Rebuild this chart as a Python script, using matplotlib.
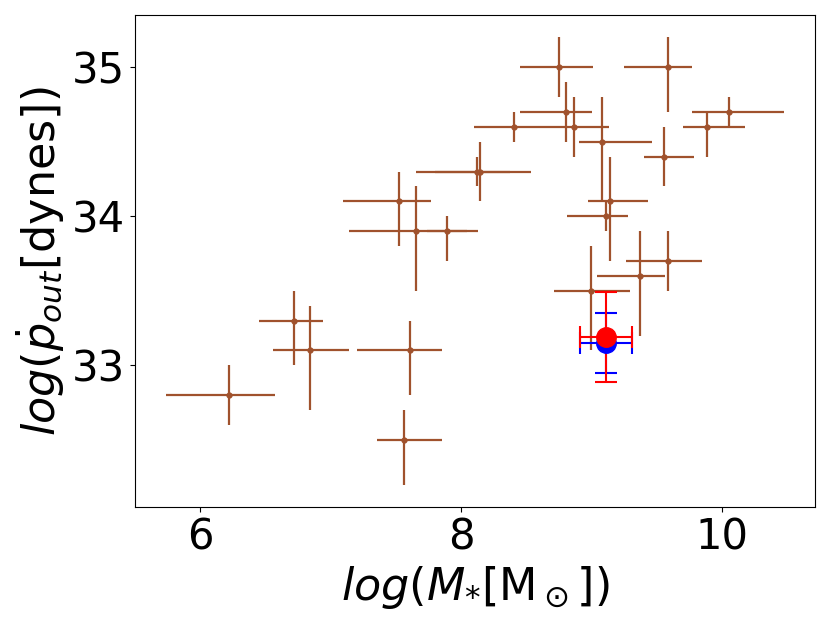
import matplotlib
matplotlib.use("Agg")
import matplotlib.pyplot as plt
import numpy as np

# literature sample: log stellar mass, log momentum rate, asymmetric errors
log_mstar = [6.22, 6.72, 6.84, 7.61, 7.56, 7.52, 7.65, 7.89, 8.12, 8.14,
             8.75, 9.58, 8.80, 8.86, 8.40, 9.08, 9.55, 9.88, 10.05, 9.11,
             9.14, 9.58, 9.37, 8.99]
mstar_lo = [0.48, 0.27, 0.28, 0.41, 0.21, 0.43, 0.51, 0.15, 0.32, 0.49,
            0.30, 0.33, 0.35, 0.24, 0.30, 0.18, 0.15, 0.18, 0.28, 0.30,
            0.17, 0.32, 0.33, 0.28]
mstar_hi = [0.35, 0.22, 0.30, 0.24, 0.29, 0.25, 0.48, 0.15, 0.25, 0.39,
            0.26, 0.19, 0.20, 0.27, 0.22, 0.38, 0.23, 0.29, 0.42, 0.17,
            0.29, 0.26, 0.19, 0.30]
log_pdot = [32.8, 33.3, 33.1, 33.1, 32.5, 34.1, 33.9, 33.9, 34.3, 34.3,
            35.0, 35.0, 34.7, 34.6, 34.6, 34.5, 34.4, 34.6, 34.7, 34.0,
            34.1, 33.7, 33.6, 33.5]
pdot_lo = [0.2, 0.3, 0.4, 0.3, 0.3, 0.3, 0.4, 0.2, 0.1, 0.2,
           0.2, 0.3, 0.2, 0.2, 0.1, 0.4, 0.2, 0.2, 0.1, 0.1,
           0.4, 0.2, 0.4, 0.4]
pdot_hi = [0.2, 0.2, 0.3, 0.2, 0.2, 0.2, 0.3, 0.1, 0.1, 0.2,
           0.2, 0.2, 0.2, 0.2, 0.1, 0.3, 0.2, 0.1, 0.1, 0.1,
           0.3, 0.2, 0.3, 0.3]

# our object, two estimates
obj_mstar = 9.11
obj_mstar_err = 0.2
blue_pdot, blue_pdot_err = 33.15, 0.2
red_pdot, red_pdot_err = 33.19, 0.3

fig = plt.figure(figsize=(8.3, 6.23), dpi=100)
ax = fig.add_axes([0.1627, 0.1862, 0.8193, 0.7897])

ax.errorbar(log_mstar, log_pdot,
            xerr=[mstar_lo, mstar_hi], yerr=[pdot_lo, pdot_hi],
            fmt="o", color="sienna", ecolor="sienna", markersize=3.5,
            elinewidth=1.6, capsize=0)

ax.errorbar(obj_mstar, blue_pdot, xerr=obj_mstar_err, yerr=blue_pdot_err,
            fmt="o", color="blue", markersize=14, elinewidth=1.5,
            capsize=8, capthick=1.5)
ax.errorbar(obj_mstar, red_pdot, xerr=obj_mstar_err, yerr=red_pdot_err,
            fmt="o", color="red", markersize=14, elinewidth=1.5,
            capsize=8, capthick=1.5)

ax.set_xlim(5.5, 10.71)
ax.set_ylim(32.05, 35.35)
ax.set_xticks([6, 8, 10])
ax.set_yticks([33, 34, 35])
ax.tick_params(labelsize=30)

ax.set_xlabel(r"$log(M_{*}$[M$_\odot$])", fontsize=32)
ax.set_ylabel(r"$log(\dot{p}_{out}$[dynes])", fontsize=32)

fig.savefig("out.png", dpi=100)
plt.close(fig)
